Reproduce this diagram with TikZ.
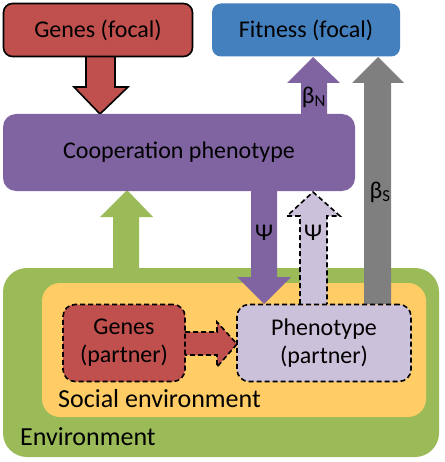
\documentclass[tikz,border=0pt]{standalone}
\usepackage{fontspec}
\setmainfont{Carlito}
\definecolor{cred}{HTML}{C0504D}
\definecolor{cblue}{HTML}{4480BE}
\definecolor{cpurple}{HTML}{8064A2}
\definecolor{clight}{HTML}{CCC1DA}
\definecolor{cgray}{HTML}{7F7F7F}
\definecolor{cgreen}{HTML}{9BBB59}
\definecolor{corange}{HTML}{FFCC66}
\begin{document}
\begin{tikzpicture}[x=1pt,y=-1pt,
  lbl/.style={font=\fontsize{24}{28}\selectfont, text=black, inner sep=0pt},
  biglbl/.style={font=\fontsize{26}{28}\selectfont, text=black, inner sep=0pt},
  dashbox/.style={draw=black, line width=1.6pt, dash pattern=on 5pt off 3pt},
  solidline/.style={draw=black, line width=1.6pt, line join=miter}]
\useasboundingbox (0,0) rectangle (444,462);
% environments
\fill[cgreen, rounded corners=24pt] (3,268) rectangle (439,457);
\fill[corange, rounded corners=18pt] (42,283) rectangle (426,417);
\node[biglbl, anchor=base west] (env) at (20,445) {Environment};
\node[biglbl, anchor=base west] (soc) at (58,407) {Social environment};
% arrows
\fill[cgreen] (113,268) -- (113,217) -- (100,217) -- (127,190) -- (153,217) -- (139,217) -- (139,268) -- cycle;
\fill[cgray] (364,304) -- (364,83) -- (352,83) -- (378,57) -- (404,83) -- (391,83) -- (391,304) -- cycle;
\fill[cpurple] (301,120) -- (301,83) -- (287,83) -- (313,57) -- (340,83) -- (327,83) -- (327,120) -- cycle;
\fill[cpurple] (251,185) -- (251,277) -- (237,277) -- (264,304) -- (291,277) -- (277,277) -- (277,185) -- cycle;
\fill[clight] (300,304) -- (300,216) -- (287,216) -- (313,192) -- (340,216) -- (327,216) -- (327,304) -- cycle;
\draw[dashbox] (300,304) -- (300,216) -- (287,216) -- (313,192) -- (340,216) -- (327,216) -- (327,304);
\draw[solidline, fill=cred] (86,50) -- (86,87) -- (74,87) -- (100,114) -- (128,87) -- (115,87) -- (115,50);
% boxes
\node[draw=black, line width=1.6pt, fill=cred, rounded corners=9pt, minimum width=189pt, minimum height=53pt, inner sep=0pt] (gf) at (98,30) {};
\node[lbl] at (gf) {Genes (focal)};
\node[fill=cblue, rounded corners=9pt, minimum width=188pt, minimum height=53pt, inner sep=0pt] (ff) at (306,30) {};
\node[lbl] at (ff) {Fitness (focal)};
\node[fill=cpurple, rounded corners=13pt, minimum width=352pt, minimum height=77pt, inner sep=0pt] (coop) at (179,152.5) {};
\node[lbl] at (coop) {Cooperation phenotype};
% partner
\fill[cred] (185,332) -- (217,332) -- (217,322) -- (237,344) -- (217,367) -- (217,355) -- (185,355) -- cycle;
\draw[dashbox] (185,332) -- (217,332) -- (217,322) -- (237,344) -- (217,367) -- (217,355) -- (185,355);
\node[dashbox, fill=cred, rounded corners=12pt, minimum width=122pt, minimum height=77pt, inner sep=0pt] (gp) at (124,343) {};
\node[lbl, align=center] at (gp) {Genes\\(partner)};
\node[dashbox, fill=clight, rounded corners=12pt, minimum width=174pt, minimum height=77pt, inner sep=0pt] (pp) at (324,343) {};
\node[lbl, align=center] at (pp) {Phenotype\\(partner)};
% labels
\node[lbl] (bn) at (314,97) {β\textsubscript{N}};
\node[lbl] (bs) at (380,192) {β\textsubscript{S}};
\node[lbl] (p1) at (264,233) {Ψ};
\node[lbl] (p2) at (313,233) {Ψ};
\end{tikzpicture}
\end{document}
